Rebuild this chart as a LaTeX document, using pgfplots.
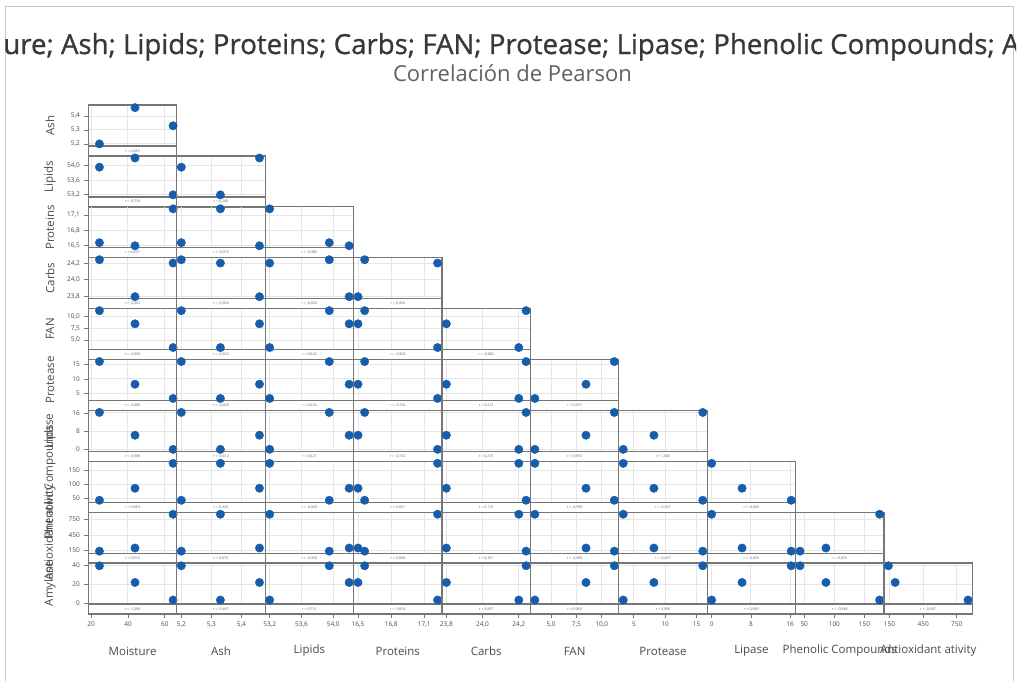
\documentclass[border=0pt]{standalone}
\usepackage{pgfplots}
\pgfplotsset{compat=1.18}
\usepackage{pgfplotstable}
\usepackage{fontspec}
\setmainfont{Open Sans}
\newfontfamily\titlefont[FakeBold=0.9]{Open Sans}
\definecolor{mblue}{RGB}{22,93,172}
\definecolor{framec}{RGB}{118,118,118}
\definecolor{gridc}{RGB}{230,230,230}
\definecolor{labc}{RGB}{75,75,75}

% columns: 0 Moisture 1 Ash 2 Lipids 3 Proteins 4 Carbs 5 FAN 6 Protease 7 Lipase 8 Phenolic 9 Antiox 10 Amylase
\pgfplotstableread{
Moisture Ash Lipids Proteins Carbs FAN Protease Lipase Phenolic Antiox Amylase
24.5 5.20 53.95 16.56 24.24 11.25 16.0 16.2 43 140 39.5
43.8 5.46 54.20 16.50 23.80 8.45 8.2 6.2 86 200 22.0
64.5 5.33 53.20 17.22 24.20 3.40 3.3 0.0 175 850 3.6
}\datatable

\def\setr#1#2#3{\expandafter\def\csname rr#1-#2\endcsname{#3}}
\setr{1}{0}{0,483}
\setr{2}{0}{-0,734}\setr{2}{1}{0,240}
\setr{3}{0}{0,837}\setr{3}{1}{-0,075}\setr{3}{2}{-0,986}
\setr{4}{0}{-0,062}\setr{4}{1}{-0,904}\setr{4}{2}{-0,632}\setr{4}{3}{0,494}
\setr{5}{0}{-0,990}\setr{5}{1}{-0,352}\setr{5}{2}{0,824}\setr{5}{3}{-0,906}\setr{5}{4}{-0,082}
\setr{6}{0}{-0,988}\setr{6}{1}{-0,609}\setr{6}{2}{0,624}\setr{6}{3}{-0,745}\setr{6}{4}{0,212}\setr{6}{5}{0,957}
\setr{7}{0}{-0,988}\setr{7}{1}{-0,612}\setr{7}{2}{0,621}\setr{7}{3}{-0,742}\setr{7}{4}{0,215}\setr{7}{5}{0,956}\setr{7}{6}{1,000}
\setr{8}{0}{0,984}\setr{8}{1}{0,320}\setr{8}{2}{-0,843}\setr{8}{3}{0,921}\setr{8}{4}{0,116}\setr{8}{5}{-0,999}\setr{8}{6}{-0,947}\setr{8}{7}{-0,945}
\setr{9}{0}{0,910}\setr{9}{1}{0,076}\setr{9}{2}{-0,950}\setr{9}{3}{0,988}\setr{9}{4}{0,357}\setr{9}{5}{-0,960}\setr{9}{6}{-0,837}\setr{9}{7}{-0,835}\setr{9}{8}{0,970}
\setr{10}{0}{-1,000}\setr{10}{1}{-0,487}\setr{10}{2}{0,731}\setr{10}{3}{-0,834}\setr{10}{4}{0,067}\setr{10}{5}{0,989}\setr{10}{6}{0,990}\setr{10}{7}{0,989}\setr{10}{8}{-0,984}\setr{10}{9}{-0,907}

\pgfplotsset{
  panel/.style={anchor=north west, scale only axis, width=88.4pt, height=51pt,
    clip=false, enlargelimits=false,
    axis line style={draw=framec, line width=1.3pt},
    grid=major, major grid style={draw=gridc, line width=1pt},
    tick align=outside, xtick pos=bottom, ytick pos=left,
    major tick length=4pt,
    ticklabel style={font=\fontsize{6.5}{7}\selectfont, text=labc},
    /pgf/number format/assume math mode=true},
  showy/.style={ytick style={draw=framec, line width=0.8pt}, yticklabel style={xshift=-1pt}},
  hidey/.style={ytick style={draw=none}, yticklabels={}},
  showx/.style={xtick style={draw=framec, line width=0.8pt}},
  hidex/.style={xtick style={draw=none}, xticklabels={}},
  % column (x) ranges
  xv0/.style={xmin=18.5,xmax=66.5,xtick={20,40,60},xticklabels={20,40,60}},
  xv1/.style={xmin=5.185,xmax=5.479,xtick={5.2,5.3,5.4},xticklabels={{5,2},{5,3},{5,4}}},
  xv2/.style={xmin=53.144,xmax=54.256,xtick={53.2,53.6,54.0},xticklabels={{53,2},{53,6},{54,0}}},
  xv3/.style={xmin=16.46,xmax=17.26,xtick={16.5,16.8,17.1},xticklabels={{16,5},{16,8},{17,1}}},
  xv4/.style={xmin=23.776,xmax=24.264,xtick={23.8,24.0,24.2},xticklabels={{23,8},{24,0},{24,2}}},
  xv5/.style={xmin=2.96,xmax=11.69,xtick={5,7.5,10},xticklabels={{5,0},{7,5},{10,0}}},
  xv6/.style={xmin=2.594,xmax=16.71,xtick={5,10,15},xticklabels={5,10,15}},
  xv7/.style={xmin=-0.9,xmax=17.1,xtick={0,8,16},xticklabels={0,8,16}},
  xv8/.style={xmin=35.7,xmax=182.3,xtick={50,100,150},xticklabels={50,100,150}},
  xv9/.style={xmin=100.6,xmax=889.4,xtick={150,450,750},xticklabels={150,450,750}},
  % row (y) ranges, bottom 10/51 of each axis is the r strip
  yv1/.style={ymin=5.1133,ymax=5.479,ytick={5.2,5.3,5.4},yticklabels={{5,2},{5,3},{5,4}}},
  yv2/.style={ymin=52.8728,ymax=54.256,ytick={53.2,53.6,54.0},yticklabels={{53,2},{53,6},{54,0}}},
  yv3/.style={ymin=16.2649,ymax=17.26,ytick={16.5,16.8,17.1},yticklabels={{16,5},{16,8},{17,1}}},
  yv4/.style={ymin=23.657,ymax=24.264,ytick={23.8,24.0,24.2},yticklabels={{23,8},{24,0},{24,2}}},
  yv5/.style={ymin=0.831,ymax=11.69,ytick={5,7.5,10},yticklabels={{5,0},{7,5},{10,0}}},
  yv6/.style={ymin=-0.849,ymax=16.71,ytick={5,10,15},yticklabels={5,10,15}},
  yv7/.style={ymin=-5.29,ymax=17.1,ytick={0,8,16},yticklabels={0,8,16}},
  yv8/.style={ymin=-0.06,ymax=182.3,ytick={50,100,150},yticklabels={50,100,150}},
  yv9/.style={ymin=-91.8,ymax=889.4,ytick={150,450,750},yticklabels={150,450,750}},
  yv10/.style={ymin=-11.19,ymax=42.3,ytick={0,20,40},yticklabels={0,20,40}},
}

\begin{document}
\begin{tikzpicture}[x=1pt,y=1pt]
\useasboundingbox (0,0) rectangle (1025,-680);
\fill[white] (0,0) rectangle (1025,-680);
\draw[black!22, line width=0.9pt] (5,-6) rectangle (1013,-700);
\begin{scope}
\clip (5,0) rectangle (1016,-100);
\node[anchor=base, font=\titlefont\fontsize{27.6}{31}\selectfont, text=black!78] at (507,-54)
  {Matriz de gráficas de Moisture; Ash; Lipids; Proteins; Carbs; FAN; Protease; Lipase; Phenolic Compounds; Antioxidant ativity; Amylase};
\end{scope}
\node[anchor=base, font=\fontsize{22}{25}\selectfont, text=black!62] at (512.5,-81) {Correlación de Pearson};

\foreach \i in {0,...,9}{
  \pgfmathtruncatemacro\rv{\i+1}
  \pgfmathsetmacro\yt{105+50.9*\i}
  \foreach \j in {0,...,\i}{
    \pgfmathsetmacro\xl{88.4+88.4*\j}
    \edef\tmp{\noexpand\begin{axis}[panel,xv\j,yv\rv,\ifnum\j=0 showy\else hidey\fi,\ifnum\i=9 showx\else hidex\fi,at={(\xl pt,-\yt pt)}]}
    \tmp
      \addplot[only marks, mark=*, mark size=4.2pt, mark options={fill=mblue,draw=mblue}] table[x index=\j,y index=\rv]{\datatable};
      \draw[draw=framec,line width=1.3pt,fill=white] (rel axis cs:0,0) rectangle (rel axis cs:1,0.196);
      \node[font=\fontsize{3.6}{4}\selectfont,text=black!60] at (rel axis cs:0.5,0.098) {r = \csname rr\rv-\j\endcsname};
    \end{axis}
  }
}

\foreach \k/\lab in {0/Ash,1/Lipids,2/Proteins,3/Carbs,4/FAN,5/Protease,6/Lipase,7/Phenolic Compounds,8/Antioxidant ativity,9/Amylase}{
  \node[rotate=90, font=\fontsize{11.5}{13}\selectfont, text=labc] at (50,{-(125.5+50.9*\k)}) {\lab};
}
\foreach \k/\lab in {0/Moisture,1/Ash,2/Lipids,3/Proteins,4/Carbs,5/FAN,6/Protease,7/Lipase,8/Phenolic Compounds,9/Antioxidant ativity}{
  \node[font=\fontsize{11.5}{13}\selectfont, text=labc] at ({132.6+88.4*\k},-651) {\lab};
}
\end{tikzpicture}
\end{document}
